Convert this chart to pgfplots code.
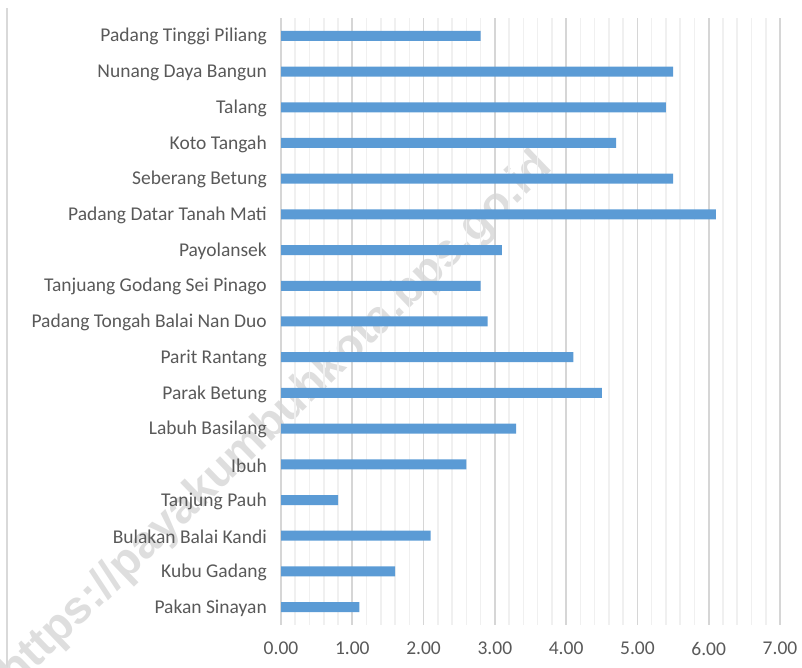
\documentclass[border=0pt]{standalone}
\usepackage{pgfplots}
\pgfplotsset{compat=1.18}
\usepackage{fontspec}
\setmainfont{Carlito}
\newfontfamily\wmfont{Liberation Sans}
\definecolor{barblue}{HTML}{5B9BD5}
\definecolor{txt}{HTML}{595959}
\begin{document}
\begin{tikzpicture}[x=1pt,y=1pt]
\useasboundingbox (0,0) rectangle (802,668);
\draw[color=black!15, line width=1.5pt] (7,0) -- (7,660);
\node[rotate=44, anchor=east, inner sep=0pt, text=black!13, font=\fontsize{46}{46}\selectfont\wmfont\bfseries] at (546,508) {https://payakumbuhkota.bps.go.id};
\begin{axis}[at={(281pt,43pt)}, anchor=south west, scale only axis,
  width=499pt, height=607pt,
  xbar, bar width=10pt,
  xmin=0, xmax=7, ymin=-0.5, ymax=16.5,
  xtick={0,...,7}, minor x tick num=4,
  ytick={0,...,16},
  yticklabels={Pakan Sinayan, Kubu Gadang, Bulakan Balai Kandi, Tanjung Pauh, Ibuh, Labuh Basilang, Parak Betung, Parit Rantang, Padang Tongah Balai Nan Duo, Tanjuang Godang Sei Pinago, Payolansek, Padang Datar Tanah Mati, Seberang Betung, Koto Tangah, Talang, Nunang Daya Bangun, Padang Tinggi Piliang},
  axis line style={draw=none},
  tick style={draw=none},
  major tick length=0pt, minor tick length=0pt,
  xmajorgrids, xminorgrids,
  major grid style={color=black!16, line width=1.6pt},
  minor grid style={color=black!6, line width=1.6pt},
  ymajorgrids=false,
  /pgf/number format/assume math mode=true,
  xticklabel={\pgfmathprintnumber[fixed,fixed zerofill,precision=2]{\tick}},
  xticklabel style={font=\fontsize{19.5}{22}\selectfont, text=txt, inner sep=0pt, anchor=north, yshift=-17pt},
  yticklabel style={font=\fontsize{19.5}{22}\selectfont, text=txt, inner sep=0pt, anchor=east, xshift=-14pt, yshift=-1pt},
]
\addplot[fill=barblue, draw=none] coordinates {
(1.1,0) (1.6,1) (2.1,2) (0.8,3) (2.6,4) (3.3,5) (4.5,6) (4.1,7) (2.9,8) (2.8,9) (3.1,10) (6.1,11) (5.5,12) (4.7,13) (5.4,14) (5.5,15) (2.8,16)
};
\end{axis}
\end{tikzpicture}
\end{document}
